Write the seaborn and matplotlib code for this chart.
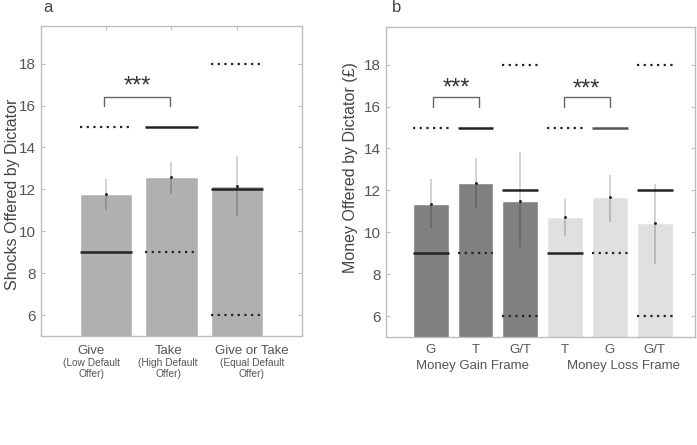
import numpy as np
import pandas as pd
import matplotlib
matplotlib.use('Agg')
import matplotlib.pyplot as plt
import seaborn as sns

sns.set_style('white')
plt.rcParams['font.family'] = ['Liberation Sans', 'DejaVu Sans']

# Panel a: shocks
a_conds = ['Give', 'Take', 'Give or Take']
a_subs = ['(Low Default\nOffer)', '(High Default\nOffer)', '(Equal Default\nOffer)']
a_mean = [11.76, 12.57, 12.18]
a_lo = [11.0, 11.8, 10.75]
a_hi = [12.5, 13.3, 13.6]
# reference lines per bar: (value, style)
a_refs = [[(15, 'dot'), (9, 'solid')],
          [(15, 'solid'), (9, 'dot')],
          [(18, 'dot'), (12, 'solid'), (6, 'dot')]]

# Panel b: money
b_keys = ['gain_G', 'gain_T', 'gain_GT', 'loss_T', 'loss_G', 'loss_GT']
b_labels = ['G', 'T', 'G/T', 'T', 'G', 'G/T']
b_mean = [11.33, 12.35, 11.5, 10.73, 11.7, 10.45]
b_lo = [10.2, 11.15, 9.3, 9.8, 10.5, 8.5]
b_hi = [12.53, 13.55, 13.83, 11.6, 12.75, 12.3]
b_refs = [[(15, 'dot'), (9, 'solid')],
          [(15, 'solid'), (9, 'dot')],
          [(18, 'dot'), (12, 'solid'), (6, 'dot')],
          [(15, 'dot'), (9, 'solid')],
          [(15, 'solid_gray'), (9, 'dot')],
          [(18, 'dot'), (12, 'solid'), (6, 'dot')]]
b_colors = ['#808080'] * 3 + ['#e0e0e0'] * 3
frames = ['Money Gain Frame', 'Money Loss Frame']

spine_c = '#bdbdbd'
text_c = '#555555'
W = 0.8

fig = plt.figure(figsize=(6.97, 4.45), dpi=100)
ax1 = fig.add_axes([0.0588, 0.245, 0.3745, 0.6966])
ax2 = fig.add_axes([0.5538, 0.2427, 0.4433, 0.6966])


def draw_refs(ax, refs):
    for i, lst in enumerate(refs):
        for val, st in lst:
            if st == 'dot':
                ax.hlines(val, i - W / 2, i + W / 2, colors='#222222', lw=1.6,
                          linestyles=(0, (1, 2)), zorder=4)
            elif st == 'solid_gray':
                ax.hlines(val, i - W / 2, i + W / 2, colors='#555555', lw=1.8, zorder=4)
            else:
                ax.hlines(val, i - W / 2, i + W / 2, colors='#222222', lw=1.8, zorder=4)


def draw_err(ax, means, lo, hi):
    x = np.arange(len(means))
    ax.vlines(x, lo, hi, colors='black', alpha=0.2, lw=1.2, zorder=5)
    ax.plot(x, means, 'o', color='#222222', ms=1.1, zorder=6)


def bracket(ax, x0, x1, y0, y1, ty):
    ax.plot([x0, x0, x1, x1], [y0, y1, y1, y0], color='#666666', lw=1.0, zorder=5)
    ax.text((x0 + x1) / 2, ty, '***', ha='center', va='center', fontsize=17,
            color='#333333')


def style_ax(ax):
    for s in ax.spines.values():
        s.set_color(spine_c)
        s.set_linewidth(1.0)
    ax.set_ylim(5, 19.8)
    ax.set_yticks([6, 8, 10, 12, 14, 16, 18])
    ax.tick_params(axis='y', direction='in', length=3, color=spine_c,
                   labelsize=11, labelcolor=text_c, right=True, left=True)
    ax.tick_params(axis='x', direction='in', length=3, color=spine_c,
                   top=True, bottom=False, labelsize=9.5, labelcolor=text_c)


# ---- panel a
df_a = pd.DataFrame({'cond': a_conds, 'mean': a_mean})
sns.barplot(data=df_a, x='cond', y='mean', color='#b0b0b0', saturation=1,
            width=W, errorbar=None, ax=ax1, zorder=2)
draw_refs(ax1, a_refs)
draw_err(ax1, a_mean, a_lo, a_hi)
bracket(ax1, -0.03, 0.97, 16.0, 16.43, 16.9)
style_ax(ax1)
ax1.set_xlim(-1, 3)
ax1.set_xticks([0, 1, 2])
ax1.set_xticklabels([])
ax1.set_xlabel('')
ax1.set_ylabel('Shocks Offered by Dictator', fontsize=11.5, color='#444444')
ax1.yaxis.set_label_coords(-0.08, 0.458)
label_x = [-0.23, 0.95, 2.23]
for xx, c, s in zip(label_x, a_conds, a_subs):
    ax1.text(xx, -0.03, c, transform=ax1.get_xaxis_transform(), ha='center',
             va='top', fontsize=9.5, color=text_c)
    ax1.text(xx, -0.072, s, transform=ax1.get_xaxis_transform(), ha='center',
             va='top', fontsize=7.3, color=text_c, linespacing=1.05)
fig.text(43 / 697, 1 - 8 / 445, 'a', fontsize=12, color='#444444', ha='left', va='center')

# ---- panel b
df_b = pd.DataFrame({'cond': b_keys, 'mean': b_mean})
sns.barplot(data=df_b, x='cond', y='mean', hue='cond', palette=b_colors,
            saturation=1, width=W, errorbar=None, legend=False, ax=ax2, zorder=2)
draw_refs(ax2, b_refs)
draw_err(ax2, b_mean, b_lo, b_hi)
bracket(ax2, 0.05, 1.07, 16.0, 16.47, 16.85)
bracket(ax2, 2.97, 4.0, 16.0, 16.47, 16.8)
style_ax(ax2)
ax2.tick_params(axis='x', top=False, bottom=False, pad=5)
ax2.set_xlim(-1, 5.9)
ax2.set_xticks(range(6))
ax2.set_xticklabels(b_labels)
ax2.set_xlabel('')
ax2.set_ylabel('Money Offered by Dictator (£)', fontsize=11.5, color='#444444')
ax2.yaxis.set_label_coords(-0.09, 0.548)
for cx, fr in zip([0.94, 4.31], frames):
    ax2.text(cx, -0.075, fr, transform=ax2.get_xaxis_transform(), ha='center',
             va='top', fontsize=9.5, color=text_c)
fig.text(392 / 697, 1 - 8 / 445, 'b', fontsize=12, color='#444444', ha='left', va='center')

fig.savefig('out.png', dpi=100)
